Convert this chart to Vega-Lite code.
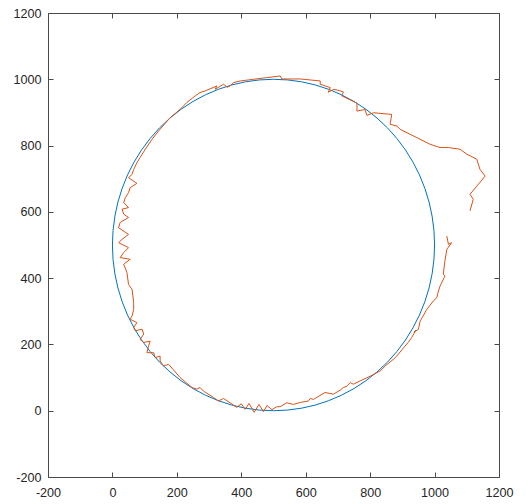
{
  "$schema": "https://vega.github.io/schema/vega-lite/v6.json",
  "width": 451,
  "height": 464,
  "autosize": {"type": "none"},
  "padding": {"left": 48, "top": 13, "right": 27, "bottom": 27},
  "background": "white",
  "config": {
    "view": {"stroke": "#4a4a4a", "strokeWidth": 1},
    "axis": {
      "domain": false,
      "grid": false,
      "ticks": true,
      "tickSize": -5,
      "tickColor": "#4a4a4a",
      "labelColor": "#262626",
      "labelFont": "Liberation Sans",
      "labelFontSize": 12.6,
      "title": null
    }
  },
  "datasets": {
    "pts": [
      {"s":"circle","i":0,"x":1000,"y":500},{"s":"circle","i":1,"x":998.1,"y":543.6},{"s":"circle","i":2,"x":992.4,"y":586.8},{"s":"circle","i":3,"x":983,"y":629.4},{"s":"circle","i":4,"x":969.8,"y":671},{"s":"circle","i":5,"x":953.2,"y":711.3},{"s":"circle","i":6,"x":933,"y":750},{"s":"circle","i":7,"x":909.6,"y":786.8},{"s":"circle","i":8,"x":883,"y":821.4},{"s":"circle","i":9,"x":853.6,"y":853.6},{"s":"circle","i":10,"x":821.4,"y":883},{"s":"circle","i":11,"x":786.8,"y":909.6},{"s":"circle","i":12,"x":750,"y":933},{"s":"circle","i":13,"x":711.3,"y":953.2},{"s":"circle","i":14,"x":671,"y":969.8},{"s":"circle","i":15,"x":629.4,"y":983},{"s":"circle","i":16,"x":586.8,"y":992.4},{"s":"circle","i":17,"x":543.6,"y":998.1},{"s":"circle","i":18,"x":500,"y":1000},
      {"s":"circle","i":19,"x":456.4,"y":998.1},{"s":"circle","i":20,"x":413.2,"y":992.4},{"s":"circle","i":21,"x":370.6,"y":983},{"s":"circle","i":22,"x":329,"y":969.8},{"s":"circle","i":23,"x":288.7,"y":953.2},{"s":"circle","i":24,"x":250,"y":933},{"s":"circle","i":25,"x":213.2,"y":909.6},{"s":"circle","i":26,"x":178.6,"y":883},{"s":"circle","i":27,"x":146.4,"y":853.6},{"s":"circle","i":28,"x":117,"y":821.4},{"s":"circle","i":29,"x":90.4,"y":786.8},{"s":"circle","i":30,"x":67,"y":750},{"s":"circle","i":31,"x":46.8,"y":711.3},{"s":"circle","i":32,"x":30.2,"y":671},{"s":"circle","i":33,"x":17,"y":629.4},{"s":"circle","i":34,"x":7.6,"y":586.8},{"s":"circle","i":35,"x":1.9,"y":543.6},{"s":"circle","i":36,"x":0,"y":500},
      {"s":"circle","i":37,"x":1.9,"y":456.4},{"s":"circle","i":38,"x":7.6,"y":413.2},{"s":"circle","i":39,"x":17,"y":370.6},{"s":"circle","i":40,"x":30.2,"y":329},{"s":"circle","i":41,"x":46.8,"y":288.7},{"s":"circle","i":42,"x":67,"y":250},{"s":"circle","i":43,"x":90.4,"y":213.2},{"s":"circle","i":44,"x":117,"y":178.6},{"s":"circle","i":45,"x":146.4,"y":146.4},{"s":"circle","i":46,"x":178.6,"y":117},{"s":"circle","i":47,"x":213.2,"y":90.4},{"s":"circle","i":48,"x":250,"y":67},{"s":"circle","i":49,"x":288.7,"y":46.8},{"s":"circle","i":50,"x":329,"y":30.2},{"s":"circle","i":51,"x":370.6,"y":17},{"s":"circle","i":52,"x":413.2,"y":7.6},{"s":"circle","i":53,"x":456.4,"y":1.9},{"s":"circle","i":54,"x":500,"y":0},
      {"s":"circle","i":55,"x":543.6,"y":1.9},{"s":"circle","i":56,"x":586.8,"y":7.6},{"s":"circle","i":57,"x":629.4,"y":17},{"s":"circle","i":58,"x":671,"y":30.2},{"s":"circle","i":59,"x":711.3,"y":46.8},{"s":"circle","i":60,"x":750,"y":67},{"s":"circle","i":61,"x":786.8,"y":90.4},{"s":"circle","i":62,"x":821.4,"y":117},{"s":"circle","i":63,"x":853.6,"y":146.4},{"s":"circle","i":64,"x":883,"y":178.6},{"s":"circle","i":65,"x":909.6,"y":213.2},{"s":"circle","i":66,"x":933,"y":250},{"s":"circle","i":67,"x":953.2,"y":288.7},{"s":"circle","i":68,"x":969.8,"y":329},{"s":"circle","i":69,"x":983,"y":370.6},{"s":"circle","i":70,"x":992.4,"y":413.2},{"s":"circle","i":71,"x":998.1,"y":456.4},{"s":"circle","i":72,"x":1000,"y":500},
      {"s":"path","i":1,"x":1038,"y":527},{"s":"path","i":2,"x":1043,"y":502},{"s":"path","i":3,"x":1053,"y":507},{"s":"path","i":4,"x":1038,"y":487},{"s":"path","i":5,"x":1032,"y":451},{"s":"path","i":6,"x":1027,"y":412},{"s":"path","i":7,"x":1032,"y":406},{"s":"path","i":8,"x":1017,"y":376},{"s":"path","i":9,"x":1012,"y":361},{"s":"path","i":10,"x":1007,"y":341},
      {"s":"path","i":11,"x":996,"y":331},{"s":"path","i":12,"x":976,"y":306},{"s":"path","i":13,"x":955,"y":270},{"s":"path","i":14,"x":950,"y":246},{"s":"path","i":15,"x":936,"y":237},{"s":"path","i":16,"x":942,"y":243},{"s":"path","i":17,"x":929,"y":221},{"s":"path","i":18,"x":918,"y":206},{"s":"path","i":19,"x":902,"y":188},{"s":"path","i":20,"x":883,"y":165},
      {"s":"path","i":21,"x":872,"y":155},{"s":"path","i":22,"x":849,"y":137},{"s":"path","i":23,"x":831,"y":120},{"s":"path","i":24,"x":800,"y":104},{"s":"path","i":25,"x":769,"y":90},{"s":"path","i":26,"x":748,"y":80},{"s":"path","i":27,"x":738,"y":85},{"s":"path","i":28,"x":728,"y":74},{"s":"path","i":29,"x":717,"y":70},{"s":"path","i":30,"x":707,"y":62},
      {"s":"path","i":31,"x":686,"y":50},{"s":"path","i":32,"x":660,"y":55},{"s":"path","i":33,"x":624,"y":34},{"s":"path","i":34,"x":614,"y":37},{"s":"path","i":35,"x":608,"y":29},{"s":"path","i":36,"x":583,"y":25},{"s":"path","i":37,"x":562,"y":19},{"s":"path","i":38,"x":541,"y":24},{"s":"path","i":39,"x":521,"y":12},{"s":"path","i":40,"x":510,"y":12},
      {"s":"path","i":41,"x":495,"y":3},{"s":"path","i":42,"x":480,"y":16},{"s":"path","i":43,"x":469,"y":-3},{"s":"path","i":44,"x":455,"y":19},{"s":"path","i":45,"x":440,"y":-5},{"s":"path","i":46,"x":424,"y":22},{"s":"path","i":47,"x":412,"y":4},{"s":"path","i":48,"x":400,"y":21},{"s":"path","i":49,"x":386,"y":10},{"s":"path","i":50,"x":365,"y":24},
      {"s":"path","i":51,"x":345,"y":37},{"s":"path","i":52,"x":329,"y":29},{"s":"path","i":53,"x":314,"y":40},{"s":"path","i":54,"x":283,"y":59},{"s":"path","i":55,"x":272,"y":70},{"s":"path","i":56,"x":262,"y":65},{"s":"path","i":57,"x":247,"y":70},{"s":"path","i":58,"x":210,"y":100},{"s":"path","i":59,"x":179,"y":135},{"s":"path","i":60,"x":174,"y":140},
      {"s":"path","i":61,"x":159,"y":135},{"s":"path","i":62,"x":148,"y":150},{"s":"path","i":63,"x":148,"y":165},{"s":"path","i":64,"x":133,"y":160},{"s":"path","i":65,"x":128,"y":175},{"s":"path","i":66,"x":107,"y":175},{"s":"path","i":67,"x":112,"y":195},{"s":"path","i":68,"x":117,"y":210},{"s":"path","i":69,"x":97,"y":206},{"s":"path","i":70,"x":86,"y":215},
      {"s":"path","i":71,"x":97,"y":231},{"s":"path","i":72,"x":92,"y":246},{"s":"path","i":73,"x":71,"y":241},{"s":"path","i":74,"x":66,"y":251},{"s":"path","i":75,"x":76,"y":266},{"s":"path","i":76,"x":55,"y":276},{"s":"path","i":77,"x":61,"y":286},{"s":"path","i":78,"x":66,"y":306},{"s":"path","i":79,"x":66,"y":326},{"s":"path","i":80,"x":61,"y":366},
      {"s":"path","i":81,"x":50,"y":381},{"s":"path","i":82,"x":45,"y":417},{"s":"path","i":83,"x":35,"y":442},{"s":"path","i":84,"x":55,"y":457},{"s":"path","i":85,"x":24,"y":462},{"s":"path","i":86,"x":35,"y":477},{"s":"path","i":87,"x":50,"y":492},{"s":"path","i":88,"x":19,"y":507},{"s":"path","i":89,"x":30,"y":517},{"s":"path","i":90,"x":50,"y":532},
      {"s":"path","i":91,"x":19,"y":552},{"s":"path","i":92,"x":24,"y":568},{"s":"path","i":93,"x":50,"y":583},{"s":"path","i":94,"x":35,"y":593},{"s":"path","i":95,"x":30,"y":608},{"s":"path","i":96,"x":50,"y":613},{"s":"path","i":97,"x":35,"y":628},{"s":"path","i":98,"x":40,"y":643},{"s":"path","i":99,"x":50,"y":658},{"s":"path","i":100,"x":55,"y":673},
      {"s":"path","i":101,"x":76,"y":686},{"s":"path","i":102,"x":50,"y":703},{"s":"path","i":103,"x":61,"y":713},{"s":"path","i":104,"x":66,"y":728},{"s":"path","i":105,"x":77,"y":750},{"s":"path","i":106,"x":86,"y":764},{"s":"path","i":107,"x":102,"y":789},{"s":"path","i":108,"x":123,"y":819},{"s":"path","i":109,"x":143,"y":844},{"s":"path","i":110,"x":164,"y":867},
      {"s":"path","i":111,"x":179,"y":884},{"s":"path","i":112,"x":210,"y":909},{"s":"path","i":113,"x":231,"y":930},{"s":"path","i":114,"x":257,"y":950},{"s":"path","i":115,"x":272,"y":960},{"s":"path","i":116,"x":288,"y":965},{"s":"path","i":117,"x":303,"y":971},{"s":"path","i":118,"x":324,"y":980},{"s":"path","i":119,"x":319,"y":970},{"s":"path","i":120,"x":345,"y":985},
      {"s":"path","i":121,"x":356,"y":976},{"s":"path","i":122,"x":365,"y":980},{"s":"path","i":123,"x":376,"y":990},{"s":"path","i":124,"x":397,"y":995},{"s":"path","i":125,"x":438,"y":1000},{"s":"path","i":126,"x":479,"y":1005},{"s":"path","i":127,"x":521,"y":1010},{"s":"path","i":128,"x":526,"y":1001},{"s":"path","i":129,"x":583,"y":1001},{"s":"path","i":130,"x":645,"y":995},
      {"s":"path","i":131,"x":645,"y":985},{"s":"path","i":132,"x":676,"y":975},{"s":"path","i":133,"x":670,"y":961},{"s":"path","i":134,"x":688,"y":970},{"s":"path","i":135,"x":717,"y":962},{"s":"path","i":136,"x":712,"y":950},{"s":"path","i":137,"x":759,"y":928},{"s":"path","i":138,"x":759,"y":904},{"s":"path","i":139,"x":784,"y":909},{"s":"path","i":140,"x":790,"y":891},
      {"s":"path","i":141,"x":810,"y":899},{"s":"path","i":142,"x":867,"y":894},{"s":"path","i":143,"x":862,"y":864},{"s":"path","i":144,"x":883,"y":859},{"s":"path","i":145,"x":893,"y":849},{"s":"path","i":146,"x":945,"y":824},{"s":"path","i":147,"x":986,"y":804},{"s":"path","i":148,"x":1017,"y":794},{"s":"path","i":149,"x":1043,"y":794},{"s":"path","i":150,"x":1079,"y":789},
      {"s":"path","i":151,"x":1100,"y":774},{"s":"path","i":152,"x":1131,"y":759},{"s":"path","i":153,"x":1141,"y":728},{"s":"path","i":154,"x":1157,"y":708},{"s":"path","i":155,"x":1110,"y":653},{"s":"path","i":156,"x":1120,"y":638},{"s":"path","i":157,"x":1110,"y":603}
    ]
  },
  "data": {"name": "pts"},
  "layer": [
    {
      "mark": {"type": "line", "strokeWidth": 1, "clip": true},
      "encoding": {
        "x": {"field": "x", "type": "quantitative", "scale": {"domain": [-200, 1200], "nice": false, "zero": false},
              "axis": {"values": [-200, 0, 200, 400, 600, 800, 1000, 1200], "labelExpr": "'' + datum.value", "labelPadding": 14, "labelFlush": false, "labelOverlap": false}},
        "y": {"field": "y", "type": "quantitative", "scale": {"domain": [-200, 1200], "nice": false, "zero": false},
              "axis": {"values": [-200, 0, 200, 400, 600, 800, 1000, 1200], "labelExpr": "'' + datum.value", "labelPadding": 12, "labelFlush": false, "labelOverlap": false}},
        "color": {"field": "s", "type": "nominal", "scale": {"domain": ["circle", "path"], "range": ["#0072BD", "#D95319"]}, "legend": null},
        "order": {"field": "i", "type": "quantitative"}
      }
    },
    {
      "mark": {"type": "line", "opacity": 0},
      "encoding": {
        "x": {"field": "x", "type": "quantitative", "axis": {"orient": "top", "labels": false, "values": [-200, 0, 200, 400, 600, 800, 1000, 1200]}},
        "y": {"field": "y", "type": "quantitative", "axis": {"orient": "right", "labels": false, "values": [-200, 0, 200, 400, 600, 800, 1000, 1200]}},
        "detail": {"field": "s", "type": "nominal"},
        "order": {"field": "i", "type": "quantitative"}
      }
    }
  ],
  "resolve": {"axis": {"x": "independent", "y": "independent"}}
}
